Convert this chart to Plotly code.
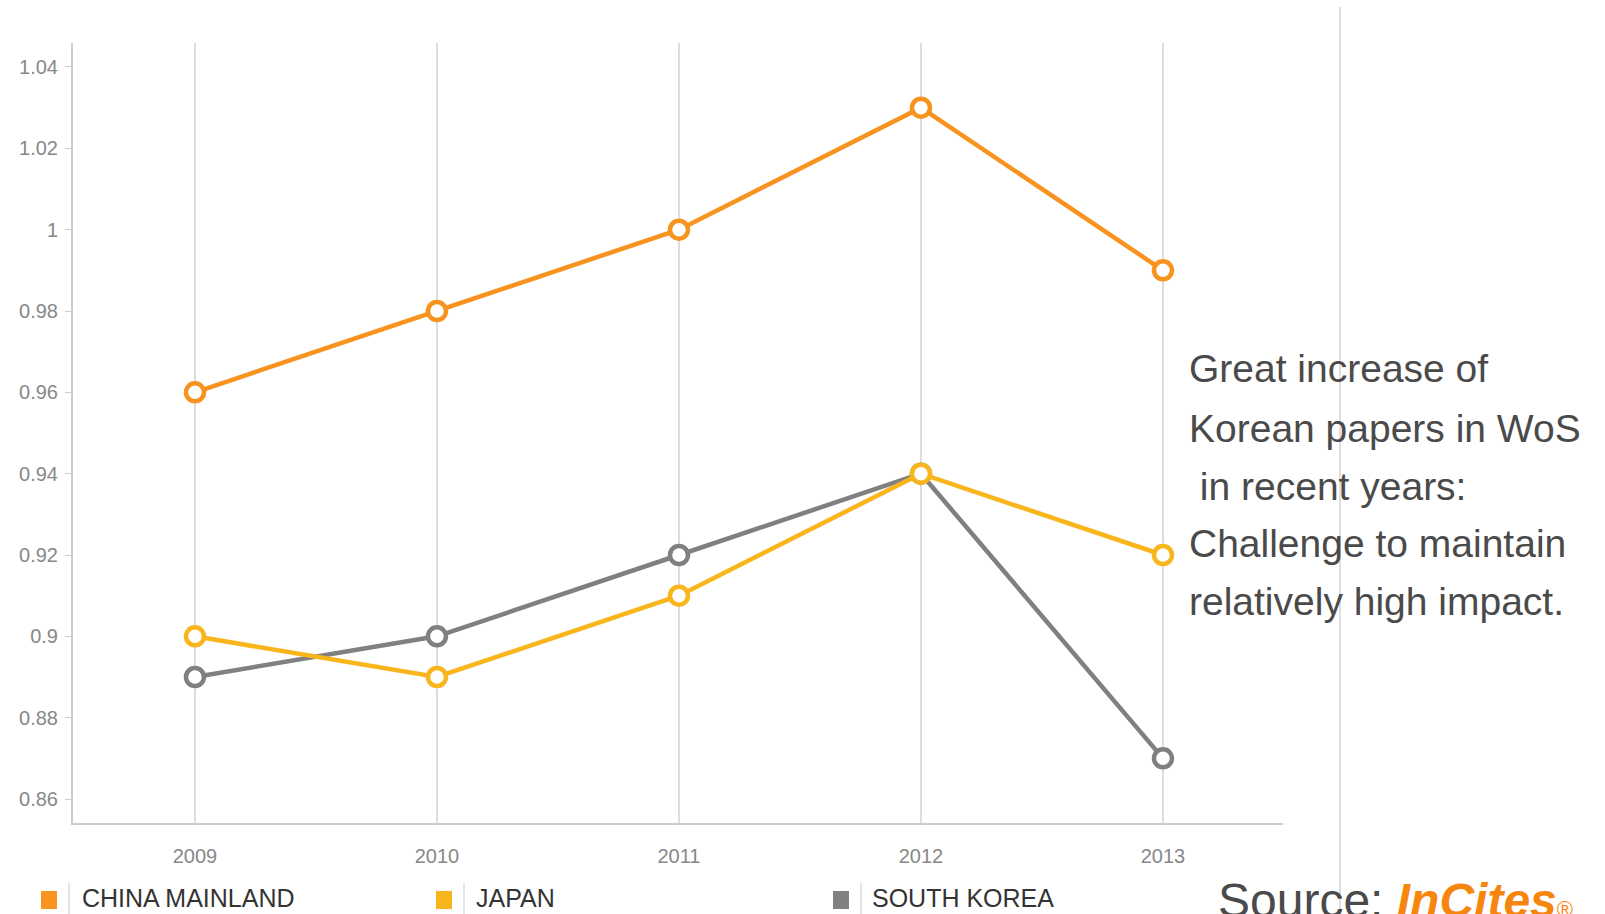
import plotly.graph_objects as go

years = [2009, 2010, 2011, 2012, 2013]
china = [0.96, 0.98, 1.00, 1.03, 0.99]
japan = [0.90, 0.89, 0.91, 0.94, 0.92]
korea = [0.89, 0.90, 0.92, 0.94, 0.87]
series_names = ["CHINA MAINLAND", "JAPAN", "SOUTH KOREA"]
series_colors = ["#F7931E", "#F9B51C", "#808080"]
y_ticks = [0.86, 0.88, 0.90, 0.92, 0.94, 0.96, 0.98, 1.00, 1.02, 1.04]
y_tick_labels = ["0.86", "0.88", "0.9", "0.92", "0.94", "0.96", "0.98", "1", "1.02", "1.04"]
note_lines = ["Great increase of", "Korean papers in WoS", "\u00a0in recent years:",
              "Challenge to maintain", "relatively high impact."]

W, H = 1605, 914
L, R, T, B = 73, 1283, 43, 823


def px(x):
    return (x - L) / (R - L)


def py(y):
    return (B - y) / (B - T)


FONT = "Liberation Sans, Arial, sans-serif"

fig = go.Figure()
for vals, name, col in [(korea, series_names[2], series_colors[2]),
                        (japan, series_names[1], series_colors[1]),
                        (china, series_names[0], series_colors[0])]:
    fig.add_trace(go.Scatter(
        x=years, y=vals, name=name, mode="lines+markers",
        line=dict(color=col, width=4.5),
        marker=dict(symbol="circle", size=18, color="white",
                    line=dict(color=col, width=4.5)),
        showlegend=False, cliponaxis=False))

fig.update_layout(
    width=W, height=H,
    margin=dict(l=L, r=W - R, t=T, b=H - B),
    paper_bgcolor="white", plot_bgcolor="white",
    font=dict(family=FONT, color="#888888"),
    xaxis=dict(range=[2008.496, 2013.496], tickvals=years,
               ticktext=[str(y) for y in years],
               showgrid=True, gridcolor="#dddddd", gridwidth=2,
               showline=True, linecolor="#cccccc", linewidth=2,
               ticks="", tickfont=dict(size=20, color="#888888"),
               ticklabelstandoff=14, zeroline=False),
    yaxis=dict(range=[0.8541, 1.0459], tickvals=y_ticks, ticktext=y_tick_labels,
               showgrid=False, showline=True, linecolor="#cccccc", linewidth=2,
               ticks="outside", ticklen=6, tickcolor="#cccccc",
               tickfont=dict(size=20, color="#888888"),
               ticklabelstandoff=3, zeroline=False),
)

fig.add_shape(type="line", xref="paper", yref="paper",
              x0=px(1340), x1=px(1340), y0=py(7), y1=py(914),
              line=dict(color="#d5d5d5", width=1.5))

baselines = [383, 442, 500, 557, 615]
for line, bl in zip(note_lines, baselines):
    fig.add_annotation(text=line, xref="paper", yref="paper",
                       x=px(1187), y=py(bl - 14), xanchor="left", yanchor="middle",
                       showarrow=False,
                       font=dict(family=FONT, size=39, color="#4a4a4a"))

legend_x = [(41, 69, 80), (436, 464, 474), (833, 861, 870)]
for (sx, sep, tx), name, col in zip(legend_x, series_names, series_colors):
    fig.add_shape(type="rect", xref="paper", yref="paper",
                  x0=px(sx), x1=px(sx + 16), y0=py(891), y1=py(909),
                  fillcolor=col, line=dict(width=0))
    fig.add_shape(type="line", xref="paper", yref="paper",
                  x0=px(sep), x1=px(sep), y0=py(883), y1=py(914),
                  line=dict(color="#dddddd", width=1.5))
    fig.add_annotation(text=name, xref="paper", yref="paper",
                       x=px(tx), y=py(898), xanchor="left", yanchor="middle",
                       showarrow=False,
                       font=dict(family=FONT, size=25, color="#333333"))

fig.add_annotation(
    text="Source: <b><i><span style='color:#F7860E'>InCites</span></i></b>"
         "<span style='color:#F7860E;font-size:22px'>®</span>",
    xref="paper", yref="paper", x=px(1216), y=py(872),
    xanchor="left", yanchor="top", showarrow=False,
    font=dict(family=FONT, size=48, color="#4a4a4a"))

fig.write_html("out.html", config={"displayModeBar": False},
               post_script="document.body.style.margin='0';document.body.style.overflow='hidden';")
